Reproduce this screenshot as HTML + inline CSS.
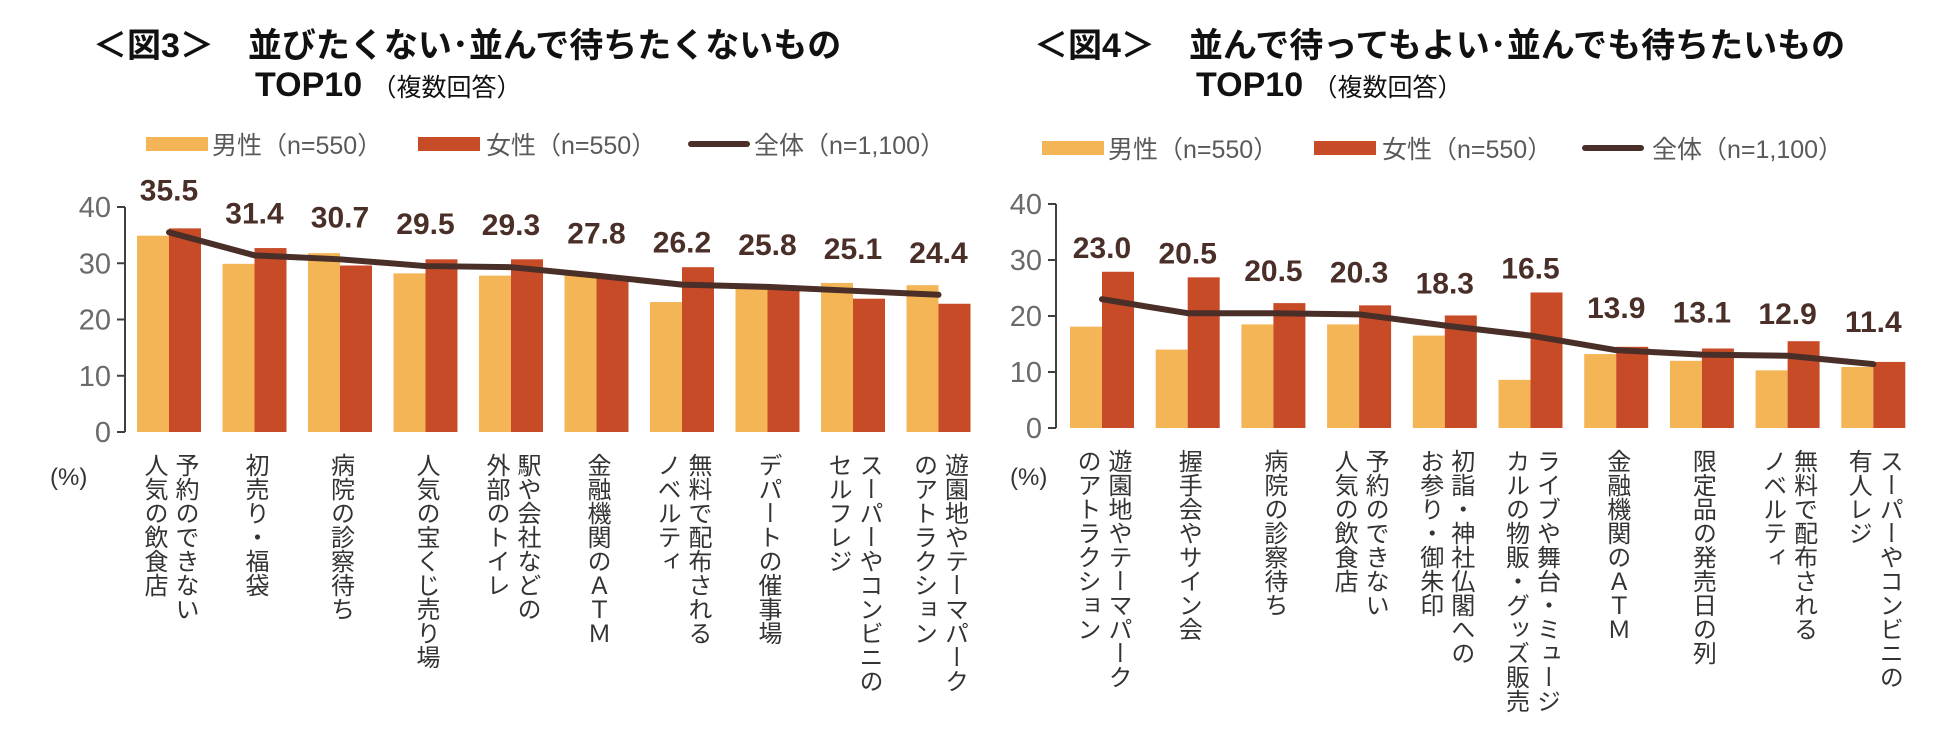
<!DOCTYPE html>
<html><head><meta charset="utf-8">
<style>
html,body{margin:0;padding:0;background:#fff;}
body{width:1950px;height:748px;position:relative;overflow:hidden;font-family:"Liberation Sans","Noto Sans CJK JP",sans-serif;}
.title{position:absolute;font-weight:bold;font-size:34px;color:#111;white-space:nowrap;letter-spacing:0px;}
.sub{font-weight:normal;font-size:25px;}
.leg{position:absolute;font-size:25px;color:#595959;white-space:nowrap;}
.sw{position:absolute;height:14px;width:62px;}
.xl{position:absolute;writing-mode:vertical-rl;font-size:24px;line-height:31px;color:#333;white-space:pre;}
.pct{position:absolute;font-size:24px;color:#333;}
svg{position:absolute;left:0;top:0;}
</style></head><body>
<div class="title" style="left:93px;top:18px;">＜図3＞　並びたくない･並んで待ちたくないもの</div>
<div class="title" style="left:255px;top:66px;">TOP10 <span class="sub">（複数回答）</span></div>
<div class="title" style="left:1034px;top:18px;">＜図4＞　並んで待ってもよい･並んでも待ちたいもの</div>
<div class="title" style="left:1196px;top:66px;">TOP10 <span class="sub">（複数回答）</span></div>

<div class="sw" style="left:146px;top:137px;background:#f4b557"></div>
<div class="leg" style="left:212px;top:126px;">男性（n=550）</div>
<div class="sw" style="left:418px;top:137px;background:#c84b28"></div>
<div class="leg" style="left:486px;top:126px;">女性（n=550）</div>
<div class="sw" style="left:688px;top:141px;height:6px;border-radius:3px;background:#4a2e28"></div>
<div class="leg" style="left:754px;top:126px;">全体（n=1,100）</div>

<div class="sw" style="left:1042px;top:141px;background:#f4b557"></div>
<div class="leg" style="left:1108px;top:130px;">男性（n=550）</div>
<div class="sw" style="left:1314px;top:141px;background:#c84b28"></div>
<div class="leg" style="left:1382px;top:130px;">女性（n=550）</div>
<div class="sw" style="left:1582px;top:145px;height:6px;border-radius:3px;background:#4a2e28"></div>
<div class="leg" style="left:1652px;top:130px;">全体（n=1,100）</div>

<div class="pct" style="left:50px;top:464px;">(%)</div>
<div class="pct" style="left:1010px;top:464px;">(%)</div>

<svg id="svg" width="1950" height="748"></svg>

<script>
const cats3 = ["予約のできない\n人気の飲食店","初売り・福袋","病院の診察待ち","人気の宝くじ売り場","駅や会社などの\n外部のトイレ","金融機関のＡＴＭ","無料で配布される\nノベルティ","デパートの催事場","スーパーやコンビニの\nセルフレジ","遊園地やテーマパーク\nのアトラクション"];
const male3 = [34.9,29.9,31.8,28.2,27.8,27.9,23.1,25.7,26.5,26.1];
const female3 = [36.2,32.7,29.6,30.7,30.7,27.3,29.3,25.4,23.7,22.8];
const total3 = [35.5,31.4,30.7,29.5,29.3,27.8,26.2,25.8,25.1,24.4];

const cats4 = ["遊園地やテーマパーク\nのアトラクション","握手会やサイン会","病院の診察待ち","予約のできない\n人気の飲食店","初詣・神社仏閣への\nお参り・御朱印","ライブや舞台・ミュージ\nカルの物販・グッズ販売","金融機関のＡＴＭ","限定品の発売日の列","無料で配布される\nノベルティ","スーパーやコンビニの\n有人レジ"];
const male4 = [18.1,14.0,18.5,18.5,16.5,8.6,13.2,12.0,10.3,10.9];
const female4 = [27.9,26.9,22.3,21.9,20.1,24.2,14.5,14.2,15.5,11.8];
const total4 = [23.0,20.5,20.5,20.3,18.3,16.5,13.9,13.1,12.9,11.4];

const yTicks = [0,10,20,30,40];

const svg = document.getElementById('svg');
const NS = 'http://www.w3.org/2000/svg';
function mk(tag, attrs){const e=document.createElementNS(NS,tag);for(const k in attrs)e.setAttribute(k,attrs[k]);svg.appendChild(e);return e;}

function drawChart(id, cats, male, female, total, axisX, y0, y40, x0, step, rightEnd){
  const ys = v => y0 - (v/40)*(y0-y40);
  const gx = i => x0 + i*step;
  const bw = 32;
  const ax = mk('line',{x1:axisX,y1:y40,x2:axisX,y2:y0,stroke:'#404040','stroke-width':2});
  
  
  yTicks.forEach(t=>{
    const tk = mk('line',{x1:axisX-8,y1:ys(t),x2:axisX,y2:ys(t),stroke:'#404040','stroke-width':2});
    
    
    const tx = mk('text',{x:axisX-14,y:ys(t)+10,'text-anchor':'end','font-size':29,fill:'#6a6a6a','font-family':'Liberation Sans, sans-serif'});
    tx.textContent = t;
    
    
  });
  cats.forEach((c,i)=>{
    const m = mk('rect',{x:gx(i),y:ys(male[i]),width:bw,height:y0-ys(male[i]),fill:'#f4b557'});
    
    
    const f = mk('rect',{x:gx(i)+bw,y:ys(female[i]),width:bw,height:y0-ys(female[i]),fill:'#c84b28'});
    
    
    const d = document.createElement('div');
    d.className='xl';
    d.textContent = c;
    
    
    document.body.appendChild(d);
    const w = d.getBoundingClientRect().width;
    d.style.left = (gx(i)+bw - w/2)+'px';
    d.style.top = (y0+21)+'px';
  });
  const pts = total.map((v,i)=>(gx(i)+bw)+','+ys(v)).join(' ');
  const pl = mk('polyline',{points:pts,fill:'none',stroke:'#4a2e28','stroke-width':6,'stroke-linejoin':'round','stroke-linecap':'round'});
  
  
  total.forEach((v,i)=>{
    const cy = Math.min(ys(v)-43, ys(Math.max(female[i],male[i]))-25);
    const t = mk('text',{x:gx(i)+bw,y:cy+11,'text-anchor':'middle','font-size':30,'font-weight':'bold',fill:'#4a2e28','font-family':'Liberation Sans, sans-serif'});
    t.textContent = v.toFixed(1);
    
    
  });
}
drawChart('chart3', cats3, male3, female3, total3, 125, 432, 207, 137, 85.5, 970);
drawChart('chart4', cats4, male4, female4, total4, 1056, 428, 204, 1070, 85.7, 1930);
</script>
</body></html>
